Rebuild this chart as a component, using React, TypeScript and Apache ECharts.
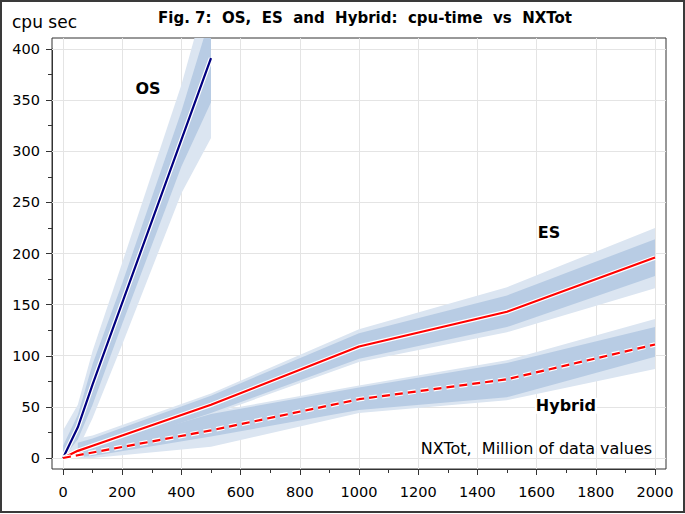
import React, { useEffect, useRef } from "react";
import * as echarts from "echarts";

// ---- data ----
const X_TICKS = [0, 200, 400, 600, 800, 1000, 1200, 1400, 1600, 1800, 2000];
const Y_TICKS = [0, 50, 100, 150, 200, 250, 300, 350, 400];

const OS_X = [0, 50, 100, 500];
const OS_LINE = [0, 30, 72, 391];
const OS_BAND_X = [0, 50, 100, 200, 400, 500];
const OS_INNER_LO = [0, 18, 52, 131, 285, 348];
const OS_INNER_HI = [12, 42, 92, 171, 339, 434];
const OS_OUTER_LO = [0, 8, 39, 111, 259, 313];
const OS_OUTER_HI = [27, 52, 105, 191, 365, 469];

const ES_X = [0, 50, 100, 500, 1000, 1500, 2000];
const ES_LINE = [0, 7, 12, 52, 109, 143, 196];
const BAND_X = [50, 100, 500, 1000, 1500, 2000];
const ES_INNER_LO = [2, 6, 44, 97, 128, 178];
const ES_INNER_HI = [15, 19, 61, 122, 159, 214];
const ES_OUTER_LO = [0, 4, 42, 94, 123, 166];
const ES_OUTER_HI = [19, 22, 63, 126, 167, 225];

const HY_X = [0, 50, 100, 500, 1000, 1500, 2000];
const HY_LINE = [0, 2.7, 5.4, 27, 57.5, 77, 111];
const HY_INNER_LO = [1, 2, 21, 47, 59.5, 99];
const HY_INNER_HI = [6, 10, 43, 69, 93, 128];
const HY_OUTER_LO = [0, 0, 11, 44, 56.6, 87];
const HY_OUTER_HI = [8, 12, 45, 71, 95.6, 136];

const CURVE_NAMES = ["OS", "ES", "Hybrid"];
const CURVE_LABEL_POS = [
  [287, 361],
  [1642, 221],
  [1699, 51],
];
const NOTE_TEXT = "NXTot,  Million of data values";
const NOTE_POS = [1992, 9.5];

const TITLE = "Fig. 7:  OS,  ES  and  Hybrid:  cpu-time  vs  NXTot";
const Y_NAME = "cpu sec";

const FONT = "DejaVu Sans";
const OUTER_COLOR = "#dbe5f1";
const INNER_COLOR = "#b8cce4";

function pairs(xs: number[], ys: number[]) {
  return xs.map((x, i) => [x, ys[i]]);
}

function band(xs: number[], lo: number[], hi: number[], color: string) {
  return {
    type: "custom",
    xAxisIndex: 0,
    yAxisIndex: 0,
    silent: true,
    z: 2,
    data: xs.map((x, i) => [x, lo[i], hi[i]]),
    encode: { x: 0, y: [1, 2] },
    renderItem: (params: any, api: any) => {
      if (params.dataIndex !== 0) return null;
      const upper = xs.map((x, i) => api.coord([x, hi[i]]));
      const lower = xs.map((x, i) => api.coord([x, lo[i]])).reverse();
      const cs = params.coordSys;
      return {
        type: "polygon",
        shape: { points: upper.concat(lower) },
        style: { fill: color, stroke: null },
        clipPath: { type: "rect", shape: { x: cs.x, y: cs.y, width: cs.width, height: cs.height } },
      };
    },
  };
}

function curve(xs: number[], ys: number[], color: string, dashed: boolean) {
  const type = dashed ? [8, 5] : "solid";
  return [
    {
      type: "line",
      xAxisIndex: 0,
      yAxisIndex: 0,
      z: 3,
      data: pairs(xs, ys),
      symbol: "none",
      silent: true,
      lineStyle: { color: "#ffffff", width: 4.6, type },
    },
    {
      type: "line",
      xAxisIndex: 0,
      yAxisIndex: 0,
      z: 3,
      data: pairs(xs, ys),
      symbol: "none",
      silent: true,
      lineStyle: { color, width: 2.2, type },
    },
  ];
}

export default function App() {
  const ref = useRef<HTMLDivElement>(null);
  useEffect(() => {
    document.body.style.margin = "0";
    if (!ref.current) return;
    const chart = echarts.init(ref.current, null, { renderer: "svg" });
    const axisColor = "#333333";
    const option: any = {
      animation: false,
      backgroundColor: "#ffffff",
      grid: [
        { left: 52, right: 19, top: 38, bottom: 45, show: true, borderColor: axisColor, borderWidth: 1, backgroundColor: "transparent" },
        { left: 63, right: 30, top: 49, bottom: 56 },
      ],
      xAxis: [
        { gridIndex: 0, type: "value", min: -37.2, max: 2037.2, show: false },
        {
          gridIndex: 1,
          type: "value",
          min: 0,
          max: 2000,
          interval: 200,
          offset: 11,
          axisLine: { show: true, onZero: false, lineStyle: { color: axisColor, width: 1 } },
          axisTick: { show: true, length: 6, lineStyle: { color: axisColor } },
          minorTick: { show: true, splitNumber: 2, length: 4, lineStyle: { color: axisColor } },
          axisLabel: { fontFamily: FONT, fontSize: 14.5, color: "#000", margin: 15, formatter: (v: number) => String(v) },
          splitLine: { show: false },
        },
      ],
      yAxis: [
        { gridIndex: 0, type: "value", min: -10.76, max: 410.76, show: false },
        {
          gridIndex: 1,
          type: "value",
          min: 0,
          max: 400,
          interval: 50,
          offset: 11,
          axisLine: { show: true, onZero: false, lineStyle: { color: axisColor, width: 1 } },
          axisTick: { show: true, length: 6, lineStyle: { color: axisColor } },
          minorTick: { show: true, splitNumber: 2, length: 4, lineStyle: { color: axisColor } },
          axisLabel: { fontFamily: FONT, fontSize: 14.5, color: "#000", margin: 12, formatter: (v: number) => String(v) },
          splitLine: { show: false },
        },
      ],
      graphic: [
        {
          type: "rect",
          shape: { x: 1, y: 1, width: 683, height: 511 },
          style: { fill: "none", stroke: "#3a3a3a", lineWidth: 2 },
          silent: true,
        },
        {
          type: "text",
          x: 365,
          y: 18,
          style: { text: TITLE, fontFamily: FONT, fontSize: 15, fontWeight: "bold", fill: "#000", textAlign: "center", textVerticalAlign: "middle" },
        },
        {
          type: "text",
          x: 12,
          y: 22,
          style: { text: Y_NAME, fontFamily: FONT, fontSize: 17, fill: "#000", textAlign: "left", textVerticalAlign: "middle" },
        },
      ],
      series: [
        {
          type: "line",
          xAxisIndex: 0,
          yAxisIndex: 0,
          z: 1,
          data: [],
          silent: true,
          markLine: {
            z: 1,
            silent: true,
            symbol: ["none", "none"],
            label: { show: false },
            lineStyle: { color: "#e4e4e4", width: 1, type: "solid" },
            data: [...X_TICKS.map((v) => ({ xAxis: v })), ...Y_TICKS.map((v) => ({ yAxis: v }))],
          },
        },
        band(OS_BAND_X, OS_OUTER_LO, OS_OUTER_HI, OUTER_COLOR),
        band(BAND_X, ES_OUTER_LO, ES_OUTER_HI, OUTER_COLOR),
        band(BAND_X, HY_OUTER_LO, HY_OUTER_HI, OUTER_COLOR),
        band(OS_BAND_X, OS_INNER_LO, OS_INNER_HI, INNER_COLOR),
        band(BAND_X, ES_INNER_LO, ES_INNER_HI, INNER_COLOR),
        band(BAND_X, HY_INNER_LO, HY_INNER_HI, INNER_COLOR),
        ...curve(OS_X, OS_LINE, "#000080", false),
        ...curve(ES_X, ES_LINE, "#ff0000", false),
        ...curve(HY_X, HY_LINE, "#ff0000", true),
        {
          type: "scatter",
          xAxisIndex: 0,
          yAxisIndex: 0,
          z: 10,
          symbolSize: 1,
          silent: true,
          itemStyle: { color: "transparent", opacity: 1 },
          data: CURVE_NAMES.map((n, i) => ({ name: n, value: CURVE_LABEL_POS[i] })),
          label: {
            show: true,
            position: "inside",
            formatter: "{b}",
            fontFamily: FONT,
            fontSize: 16,
            fontWeight: "bold",
            color: "#000",
            opacity: 1,
            textBorderWidth: 0,
            backgroundColor: "#ffffff",
            padding: [0, 1],
          },
        },
        {
          type: "scatter",
          xAxisIndex: 0,
          yAxisIndex: 0,
          z: 10,
          symbolSize: 1,
          silent: true,
          itemStyle: { color: "transparent", opacity: 1 },
          data: [{ name: NOTE_TEXT, value: NOTE_POS }],
          label: { show: true, position: "left", distance: 0, formatter: "{b}", fontFamily: FONT, fontSize: 16, color: "#000", opacity: 1 },
        },
      ],
    };
    chart.setOption(option);
    return () => chart.dispose();
  }, []);
  return <div ref={ref} style={{ width: 685, height: 514 }} />;
}
